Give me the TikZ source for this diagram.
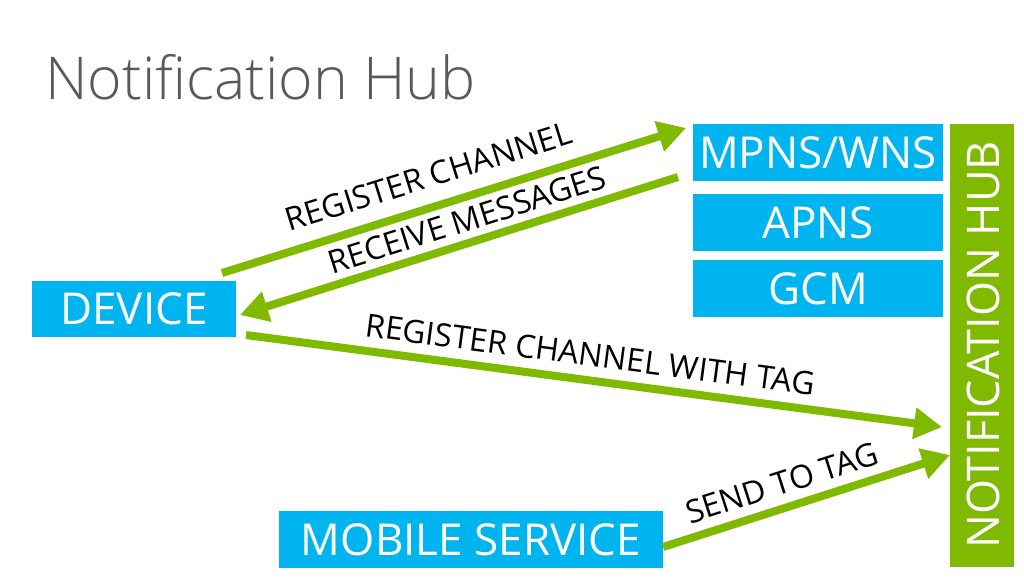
\documentclass[tikz,border=0pt]{standalone}
\usepackage{fontspec}
\setmainfont{Open Sans}
\newfontfamily\titlefont{Open Sans Light}
\usetikzlibrary{arrows.meta}
\definecolor{mscyan}{RGB}{0,181,239}
\definecolor{msgreen}{RGB}{127,186,0}
\definecolor{titlegray}{RGB}{89,89,89}
\tikzset{
  box/.style={fill=mscyan, text=white, inner sep=0pt, font=\fontsize{44}{44}\selectfont, anchor=center},
  hubbar/.style={fill=msgreen, text=white, inner sep=0pt, minimum width=64pt, minimum height=443pt, anchor=center},
  flow/.style={draw=msgreen, line width=8pt, -{Triangle[width=30pt,length=28pt]}},
  lbl/.style={text=black, font=\fontsize{32}{32}\selectfont, inner sep=0pt, sloped}
}
\begin{document}
\begin{tikzpicture}[x=1pt,y=-1pt]
\useasboundingbox (0,0) rectangle (1024,576);
\node[text=titlegray, font=\titlefont\fontsize{59}{59}\selectfont, anchor=base west, inner sep=0pt] (title) at (45,99) {Notification Hub};
\node[box, minimum width=204pt, minimum height=56pt] (device) at (134,309) {DEVICE};
\node[box, minimum width=250pt, minimum height=57pt] (mpns) at (818,152.5) {MPNS/WNS};
\node[box, minimum width=250pt, minimum height=57pt] (apns) at (818,222.5) {APNS};
\node[box, minimum width=250pt, minimum height=57pt] (gcm) at (818,288.5) {GCM};
\node[box, minimum width=384pt, minimum height=57pt] (mobile) at (471,539.5) {MOBILE SERVICE};
\node[hubbar] (hub) at (982,345.5) {};
\node[text=white, rotate=90, font=\fontsize{45}{45}\selectfont, inner sep=0pt] (hublabel) at (983,345) {NOTIFICATION HUB};
\coordinate (a1s) at (222,273);
\coordinate (a1e) at (686,128);
\coordinate (a2s) at (678,177);
\coordinate (a2e) at (240,315);
\coordinate (a3s) at (246,335);
\coordinate (a3e) at (942,427);
\coordinate (a4s) at (663,547);
\coordinate (a4e) at (950,455);
\draw[flow] (a1s) -- node[lbl, above=15pt, pos=0.465] (l1) {REGISTER CHANNEL} (a1e);
\draw[flow] (a2s) -- node[lbl, above=7pt, pos=0.466] (l2) {RECEIVE MESSAGES} (a2e);
\draw[flow] (a3s) -- node[lbl, above=10pt, pos=0.49] (l3) {REGISTER CHANNEL WITH TAG} (a3e);
\draw[flow] (a4s) -- node[lbl, above=9pt, pos=0.44] (l4) {SEND TO TAG} (a4e);
\end{tikzpicture}
\end{document}
